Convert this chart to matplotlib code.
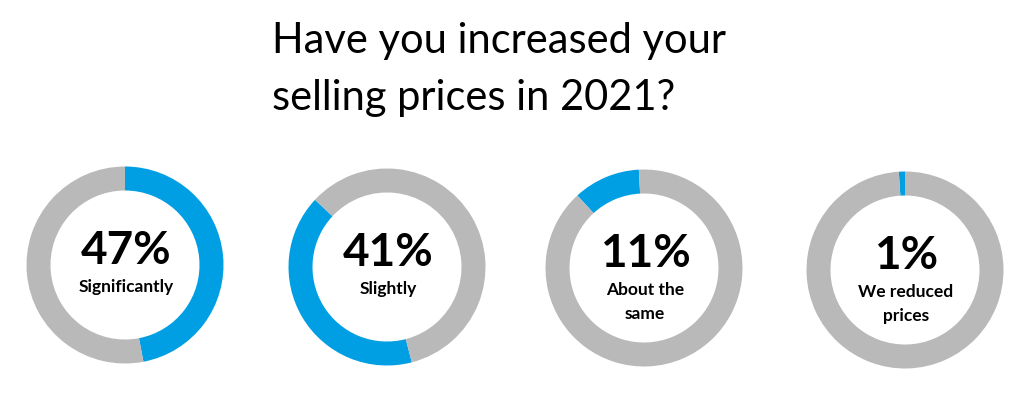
import matplotlib
matplotlib.use('Agg')
import matplotlib.pyplot as plt

# survey answers, percent
values = [47, 41, 11, 1]
labels = ['Significantly', 'Slightly', 'About the\nsame', 'We reduced\nprices']
title = 'Have you increased your\nselling prices in 2021?'

# layout in pixels (y measured from the top)
centers = [(125, 265), (387, 267), (644, 268), (905, 270)]
starts = [90, 137, 93, 90]
ccw = [False, True, True, True]

blue = '#009FE3'
grey = '#B9B9B9'
W, H = 1032, 399

plt.rcParams['font.family'] = ['Lato', 'DejaVu Sans']

fig = plt.figure(figsize=(W / 100, H / 100), dpi=100)
ax = fig.add_axes([0, 0, 1, 1])

for v, lab, (cx, cy), st, cc in zip(values, labels, centers, starts, ccw):
    ax.pie([v, 100 - v], colors=[blue, grey], startangle=st, counterclock=cc,
           radius=98.5, center=(cx, H - cy),
           wedgeprops=dict(width=24, linewidth=0))
    ax.text(cx + 1, H - cy + 14, f'{v}%', ha='center', va='center',
            fontsize=33, fontweight='bold', color='black')
    ax.text(cx + 1, H - cy - 14, lab, ha='center', va='top',
            fontsize=12.5, fontweight='bold', color='black', linespacing=1.6)

ax.text(272, H - 22, title, ha='left', va='top', fontsize=30,
        color='black', linespacing=1.6)

ax.set_xlim(0, W)
ax.set_ylim(0, H)
ax.set_aspect('equal')
ax.axis('off')

fig.savefig('out.png', dpi=100)
plt.close()
